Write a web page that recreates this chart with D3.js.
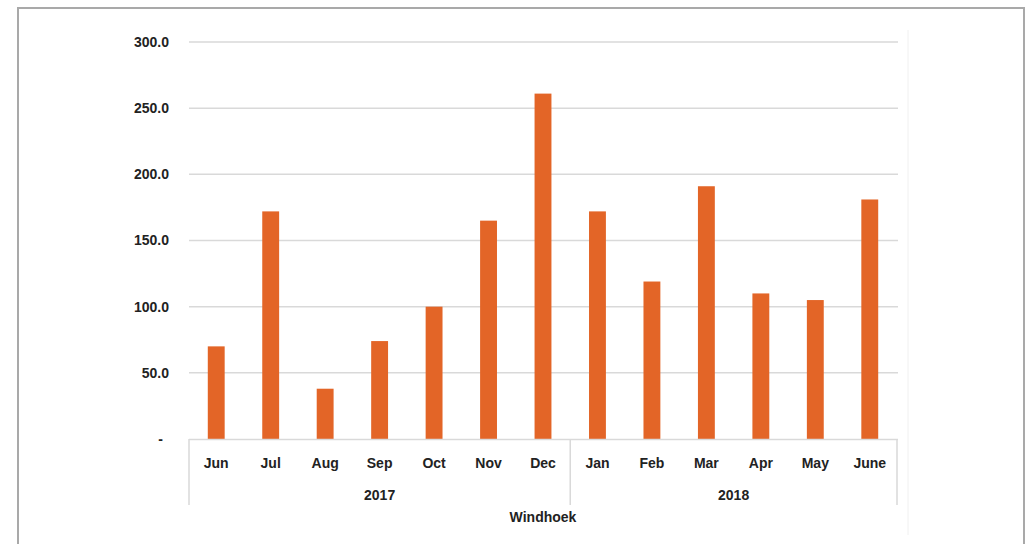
<!DOCTYPE html>
<html>
<head>
<meta charset="utf-8">
<script src="https://cdn.jsdelivr.net/npm/d3@7/dist/d3.min.js"></script>
<style>
  html, body { margin: 0; padding: 0; background: #fff; }
  svg { display: block; }
  text { font-family: "Liberation Sans", Arial, sans-serif; font-weight: bold; fill: #222; }
</style>
</head>
<body>
<svg id="chart" width="1025" height="544"></svg>
<script>
const months = ["Jun","Jul","Aug","Sep","Oct","Nov","Dec","Jan","Feb","Mar","Apr","May","June"];
const years = ["2017","2017","2017","2017","2017","2017","2017","2018","2018","2018","2018","2018","2018"];
const values = [70, 172, 38, 74, 100, 165, 261, 172, 119, 191, 110, 105, 181];
const yTicks = [0, 50, 100, 150, 200, 250, 300];
const groupTitle = "Windhoek";

(function () {
const svg = d3.select("#chart");
const W = 1025, H = 544;

svg.append("rect").attr("x", 0).attr("y", 0).attr("width", W).attr("height", H).attr("fill", "#fff");
svg.append("path")
  .attr("d", `M18,${H} L18,8 L1024,8 L1024,${H}`)
  .attr("fill", "none").attr("stroke", "#a9a9a9").attr("stroke-width", 2);
svg.append("line").attr("x1", 908).attr("x2", 908).attr("y1", 30).attr("y2", 535)
  .attr("stroke", "#f0f0f0").attr("stroke-width", 1);

const pLeft = 189, pRight = 897, pTop = 42, pBottom = 439;
const x = d3.scaleBand().domain(d3.range(months.length)).range([pLeft, pRight]).paddingInner(0.69).paddingOuter(0.345);
const y = d3.scaleLinear().domain([0, 300]).range([pBottom, pTop]);

svg.append("g").selectAll("line").data(yTicks.filter(d => d > 0)).join("line")
  .attr("x1", pLeft).attr("x2", pRight + 1)
  .attr("y1", d => y(d)).attr("y2", d => y(d))
  .attr("stroke", "#d9d9d9").attr("stroke-width", 1.5);

const yAxis = d3.axisLeft(y).tickValues(yTicks).tickSize(0).tickPadding(0)
  .tickFormat(d => d === 0 ? "-" : d3.format(".1f")(d));
const gy = svg.append("g").attr("transform", `translate(169,0)`).call(yAxis);
gy.select(".domain").remove();
gy.selectAll("text").attr("font-size", 14).attr("font-family", "Liberation Sans, Arial, sans-serif")
  .attr("font-weight", "bold").attr("fill", "#222")
  .attr("dx", d => d === 0 ? -6 : 0);

svg.append("g").selectAll("rect").data(values).join("rect")
  .attr("x", (d, i) => x(i)).attr("width", x.bandwidth())
  .attr("y", d => y(d)).attr("height", d => pBottom - y(d))
  .attr("fill", "#e36527");

const axisColor = "#d9d9d9";
svg.append("line").attr("x1", pLeft).attr("x2", pRight + 1).attr("y1", pBottom + 0.5).attr("y2", pBottom + 0.5)
  .attr("stroke", axisColor).attr("stroke-width", 1.5);

const yearNames = Array.from(new Set(years));
const groups = yearNames.map(yr => ({ yr, idx: years.map((v, i) => v === yr ? i : -1).filter(i => i >= 0) }));
const bandStart = i => pLeft + (pRight - pLeft) * i / months.length;
const sepX = [0, years.indexOf("2018"), months.length].map(bandStart);
svg.append("g").selectAll("line").data(sepX).join("line")
  .attr("x1", d => d).attr("x2", d => d).attr("y1", pBottom).attr("y2", 505)
  .attr("stroke", axisColor).attr("stroke-width", 1.5);

svg.append("g").selectAll("text").data(months).join("text")
  .attr("x", (d, i) => x(i) + x.bandwidth() / 2).attr("y", 468)
  .attr("text-anchor", "middle").attr("font-size", 14).text(d => d);

svg.append("g").selectAll("text").data(groups).join("text")
  .attr("x", g => (bandStart(g.idx[0]) + bandStart(g.idx[g.idx.length - 1] + 1)) / 2)
  .attr("y", 500).attr("text-anchor", "middle").attr("font-size", 14).text(g => g.yr);

svg.append("text").attr("x", 543).attr("y", 522).attr("text-anchor", "middle")
  .attr("font-size", 14).text(groupTitle);
})();
</script>
</body>
</html>
